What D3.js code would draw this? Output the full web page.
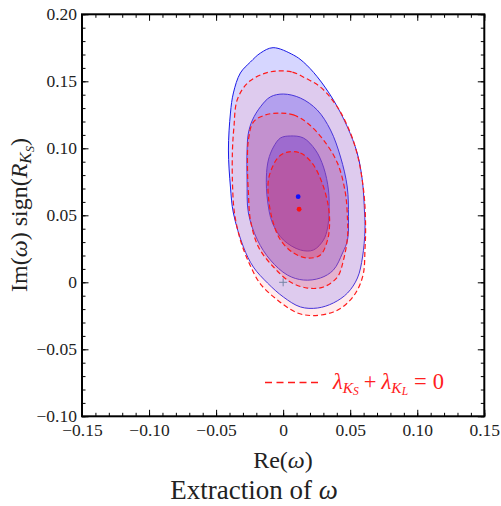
<!DOCTYPE html>
<html>
<head>
<meta charset="utf-8">
<script src="https://cdn.jsdelivr.net/npm/d3@7"></script>
<style>
  html, body { margin: 0; padding: 0; background: #fff; }
  svg { display: block; }
  text { font-family: "Liberation Serif", "DejaVu Serif", serif; }
</style>
</head>
<body>
<svg id="chart" width="501" height="506"></svg>
<script>
// Axis tick labels (major ticks every 0.05)
const xTickValues = [-0.15, -0.10, -0.05, 0, 0.05, 0.10, 0.15];
const yTickValues = [-0.10, -0.05, 0, 0.05, 0.10, 0.15, 0.20];

// Confidence contours, [Re(w), Im(w) sign(R_KS)] — general fit (blue)
const blueOuter = [
  [-0.0075, 0.1751], [0.0077, 0.1696], [0.0151, 0.1644], [0.0254, 0.1534],
  [0.0375, 0.1360], [0.0478, 0.1161], [0.0552, 0.0965], [0.0590, 0.0763],
  [0.0607, 0.0517], [0.0610, 0.0390], [0.0592, 0.0189], [0.0554, 0.0032],
  [0.0480, -0.0080], [0.0375, -0.0154], [0.0256, -0.0192], [0.0129, -0.0184],
  [0.0002, -0.0110], [-0.0117, -0.0005], [-0.0222, 0.0114], [-0.0296, 0.0263],
  [-0.0371, 0.0517], [-0.0393, 0.0711], [-0.0408, 0.0987], [-0.0393, 0.1263],
  [-0.0371, 0.1413], [-0.0319, 0.1562], [-0.0244, 0.1644], [-0.0169, 0.1711]
];
const blueMiddle = [
  [0.0002, 0.1405], [0.0129, 0.1375], [0.0254, 0.1286], [0.0353, 0.1137],
  [0.0428, 0.0935], [0.0478, 0.0711], [0.0487, 0.0490], [0.0480, 0.0316],
  [0.0443, 0.0219], [0.0375, 0.0092], [0.0278, 0.0032], [0.0151, 0.0017],
  [0.0032, 0.0054], [-0.0095, 0.0166], [-0.0192, 0.0316], [-0.0259, 0.0517],
  [-0.0269, 0.0763], [-0.0269, 0.0987], [-0.0259, 0.1114], [-0.0229, 0.1211],
  [-0.0169, 0.1310], [-0.0095, 0.1384]
];
const blueInner = [
  [0.0054, 0.1092], [0.0151, 0.1077], [0.0241, 0.0987], [0.0301, 0.0860],
  [0.0338, 0.0689], [0.0342, 0.0525], [0.0331, 0.0405], [0.0301, 0.0316],
  [0.0226, 0.0241], [0.0129, 0.0241], [0.0002, 0.0316], [-0.0080, 0.0443],
  [-0.0117, 0.0614], [-0.0125, 0.0786], [-0.0110, 0.0913], [-0.0072, 0.1010],
  [-0.0020, 0.1077]
];

// Confidence contours with lambda_KS + lambda_KL = 0 (red, dashed)
const redOuter = [
  [-0.0045, 0.1577], [0.0069, 0.1569], [0.0166, 0.1524], [0.0278, 0.1457],
  [0.0403, 0.1310], [0.0502, 0.1114], [0.0554, 0.0950], [0.0584, 0.0801],
  [0.0607, 0.0614], [0.0615, 0.0390], [0.0610, 0.0241], [0.0599, 0.0069],
  [0.0554, -0.0057], [0.0480, -0.0154], [0.0375, -0.0222], [0.0226, -0.0248],
  [0.0107, -0.0229], [-0.0043, -0.0132], [-0.0169, -0.0013], [-0.0251, 0.0137],
  [-0.0319, 0.0316], [-0.0363, 0.0517], [-0.0378, 0.0741], [-0.0378, 0.0987],
  [-0.0367, 0.1159], [-0.0343, 0.1360], [-0.0266, 0.1487], [-0.0154, 0.1554]
];
const redMiddle = [
  [-0.0020, 0.1263], [0.0077, 0.1249], [0.0181, 0.1189], [0.0301, 0.1062],
  [0.0405, 0.0890], [0.0464, 0.0667], [0.0480, 0.0465], [0.0480, 0.0338],
  [0.0450, 0.0166], [0.0405, 0.0040], [0.0301, -0.0035], [0.0181, -0.0043],
  [0.0054, 0.0002], [-0.0072, 0.0114], [-0.0184, 0.0263], [-0.0244, 0.0465],
  [-0.0259, 0.0667], [-0.0266, 0.0860], [-0.0259, 0.1062], [-0.0222, 0.1196],
  [-0.0132, 0.1249]
];
const redInner = [
  [0.0032, 0.0972], [0.0129, 0.0965], [0.0216, 0.0890], [0.0291, 0.0741],
  [0.0338, 0.0562], [0.0346, 0.0428], [0.0331, 0.0316], [0.0278, 0.0204],
  [0.0181, 0.0181], [0.0077, 0.0219], [-0.0020, 0.0316], [-0.0080, 0.0465],
  [-0.0110, 0.0637], [-0.0110, 0.0763], [-0.0080, 0.0860], [-0.0035, 0.0935]
];

// Best-fit points and the origin marker
const bestFitBlue = [0.0112, 0.0639];
const bestFitRed = [0.0119, 0.0545];
const origin = [0, 0];

const svg = d3.select("#chart");
const x = d3.scaleLinear().domain([-0.15, 0.15]).range([82, 484.3]);
const y = d3.scaleLinear().domain([-0.10, 0.20]).range([416.3, 14.3]);

const outline = d3.line()
  .x(d => x(d[0]))
  .y(d => y(d[1]))
  .curve(d3.curveCatmullRomClosed.alpha(0.5));

const plot = svg.append("g");

// Blue fills, outer to inner
[[blueOuter, 0.16], [blueMiddle, 0.25], [blueInner, 0.37]].forEach(([pts, a]) => {
  plot.append("path").attr("d", outline(pts))
    .attr("fill", "rgb(0,0,255)").attr("fill-opacity", a).attr("stroke", "none");
});
// Blue outlines
[blueOuter, blueMiddle, blueInner].forEach(pts => {
  plot.append("path").attr("d", outline(pts))
    .attr("fill", "none").attr("stroke", "#1a1ae6").attr("stroke-width", 1);
});
// Red fills, outer to inner
[[redOuter, "rgb(255,161,170)", 0.2], [redMiddle, "rgb(255,90,100)", 0.22], [redInner, "rgb(255,35,45)", 0.25]]
  .forEach(([pts, c, a]) => {
    plot.append("path").attr("d", outline(pts))
      .attr("fill", c).attr("fill-opacity", a).attr("stroke", "none");
  });
// Red dashed outlines
[redOuter, redMiddle, redInner].forEach(pts => {
  plot.append("path").attr("d", outline(pts))
    .attr("fill", "none").attr("stroke", "#ff1a1a").attr("stroke-width", 1.2)
    .attr("stroke-dasharray", "5,3");
});

// Origin marker
const ox = x(origin[0]), oy = y(origin[1]);
plot.append("path")
  .attr("d", `M${ox - 4},${oy}H${ox + 4}M${ox},${oy - 4}V${oy + 4}`)
  .attr("stroke", "#7585a5").attr("stroke-width", 1).attr("fill", "none");

// Best-fit dots
plot.append("circle").attr("cx", x(bestFitBlue[0])).attr("cy", y(bestFitBlue[1]))
  .attr("r", 2.4).attr("fill", "#1010ff");
plot.append("circle").attr("cx", x(bestFitRed[0])).attr("cy", y(bestFitRed[1]))
  .attr("r", 2.4).attr("fill", "#ff1010");

// Axes: inward major and minor ticks on all four sides
const fmt = d => d === 0 ? "0" : d3.format(".2f")(d);
const minorX = x.ticks(30), minorY = y.ticks(30);

function styleAxis(g) {
  g.attr("font-family", null);
  g.select(".domain").remove();
  g.selectAll("line").attr("stroke", "#000");
  g.selectAll("text").attr("font-size", 17.5).attr("fill", "#222");
}

svg.append("g").attr("transform", `translate(0,${y.range()[0]})`)
  .call(d3.axisBottom(x).tickValues(minorX).tickSize(-3.5).tickFormat(""))
  .call(styleAxis);
svg.append("g").attr("transform", `translate(0,${y.range()[0]})`)
  .call(d3.axisBottom(x).tickValues(xTickValues).tickSize(-6.5).tickPadding(7).tickFormat(fmt))
  .call(styleAxis);
svg.append("g").attr("transform", `translate(0,${y.range()[1]})`)
  .call(d3.axisTop(x).tickValues(minorX).tickSize(-3.5).tickFormat(""))
  .call(styleAxis);
svg.append("g").attr("transform", `translate(0,${y.range()[1]})`)
  .call(d3.axisTop(x).tickValues(xTickValues).tickSize(-6.5).tickFormat(""))
  .call(styleAxis);
svg.append("g").attr("transform", `translate(${x.range()[0]},0)`)
  .call(d3.axisLeft(y).tickValues(minorY).tickSize(-3.5).tickFormat(""))
  .call(styleAxis);
svg.append("g").attr("transform", `translate(${x.range()[0]},0)`)
  .call(d3.axisLeft(y).tickValues(yTickValues).tickSize(-6.5).tickPadding(5).tickFormat(fmt))
  .call(styleAxis);
svg.append("g").attr("transform", `translate(${x.range()[1]},0)`)
  .call(d3.axisRight(y).tickValues(minorY).tickSize(-3.5).tickFormat(""))
  .call(styleAxis);
svg.append("g").attr("transform", `translate(${x.range()[1]},0)`)
  .call(d3.axisRight(y).tickValues(yTickValues).tickSize(-6.5).tickFormat(""))
  .call(styleAxis);

// Frame
svg.append("rect")
  .attr("x", x.range()[0]).attr("y", y.range()[1])
  .attr("width", x.range()[1] - x.range()[0]).attr("height", y.range()[0] - y.range()[1])
  .attr("fill", "none").attr("stroke", "#000").attr("stroke-width", 2);

// Legend
const legY = 382.5;
svg.append("line").attr("x1", 265).attr("x2", 321).attr("y1", legY).attr("y2", legY)
  .attr("stroke", "#ff1a1a").attr("stroke-width", 1.3).attr("stroke-dasharray", "7,4.5");
const leg = svg.append("text").attr("x", 333).attr("y", legY + 6)
  .attr("font-size", 22.5).attr("fill", "#ff2020");
leg.append("tspan").attr("font-style", "italic").text("λ");
leg.append("tspan").attr("font-style", "italic").attr("font-size", 15.5).attr("dy", 4).text("K");
leg.append("tspan").attr("font-style", "italic").attr("font-size", 11.5).attr("dy", 2.5).text("S");
leg.append("tspan").attr("dy", -6.5).attr("dx", 5).text("+");
leg.append("tspan").attr("dx", 5).attr("font-style", "italic").text("λ");
leg.append("tspan").attr("font-style", "italic").attr("font-size", 15.5).attr("dy", 4).text("K");
leg.append("tspan").attr("font-style", "italic").attr("font-size", 11.5).attr("dy", 2.5).text("L");
leg.append("tspan").attr("dy", -6.5).attr("dx", 6).text("=");
leg.append("tspan").attr("dx", 6).text("0");

// Axis titles
const xl = svg.append("text").attr("x", 283).attr("y", 468).attr("text-anchor", "middle")
  .attr("font-size", 24).attr("fill", "#222");
xl.append("tspan").text("Re(");
xl.append("tspan").attr("font-style", "italic").text("ω");
xl.append("tspan").text(")");

const yl = svg.append("text").attr("transform", "translate(27,215) rotate(-90)")
  .attr("text-anchor", "middle").attr("font-size", 24).attr("fill", "#222");
yl.append("tspan").text("Im(");
yl.append("tspan").attr("font-style", "italic").text("ω");
yl.append("tspan").text(") sign(");
yl.append("tspan").attr("font-style", "italic").text("R");
yl.append("tspan").attr("font-style", "italic").attr("font-size", 17).attr("dy", 4).text("K");
yl.append("tspan").attr("font-style", "italic").attr("font-size", 12.5).attr("dy", 3).text("S");
yl.append("tspan").attr("dy", -7).text(")");

// Title
const tt = svg.append("text").attr("x", 254).attr("y", 499).attr("text-anchor", "middle")
  .attr("font-size", 27).attr("fill", "#222");
tt.append("tspan").text("Extraction of ");
tt.append("tspan").attr("font-style", "italic").text("ω");
</script>
</body>
</html>
